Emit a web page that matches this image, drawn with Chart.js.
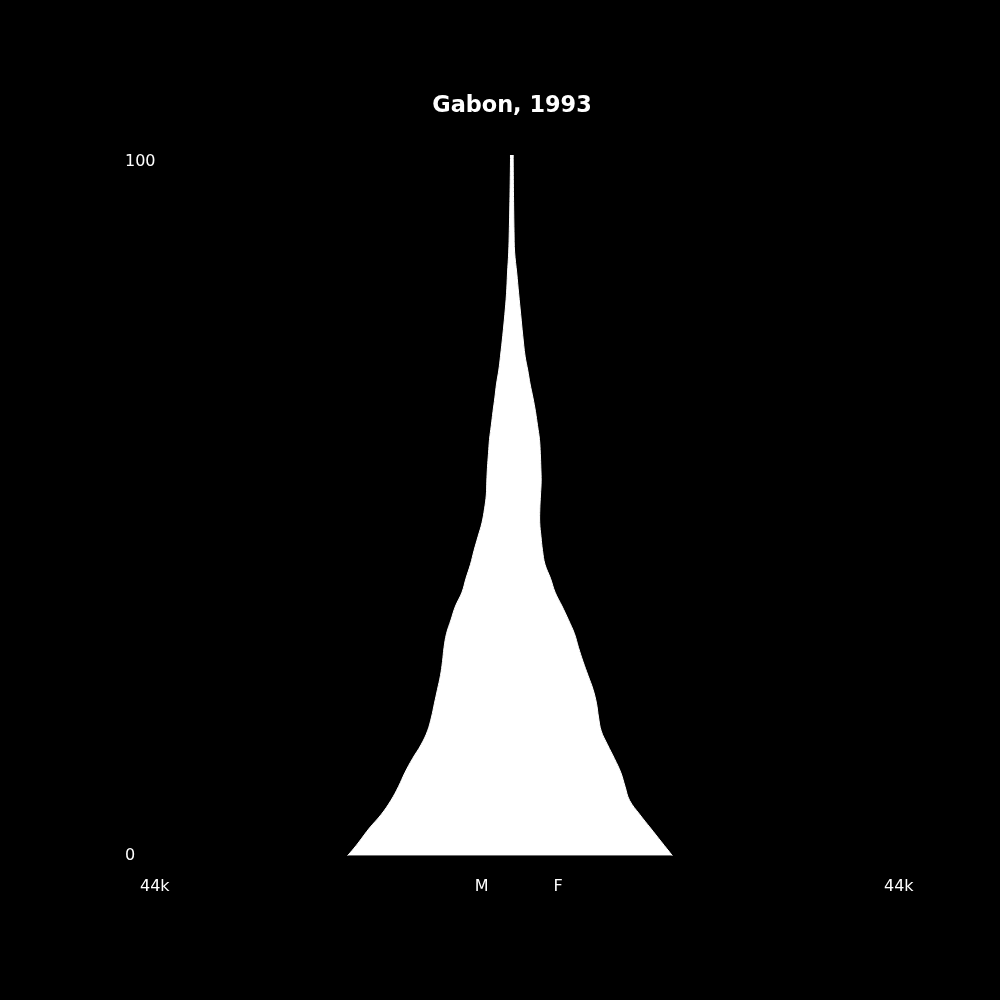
<!DOCTYPE html>
<html>
<head>
<meta charset="utf-8">
<title>Gabon, 1993</title>
<script src="https://cdn.jsdelivr.net/npm/chart.js@4.4.0/dist/chart.umd.min.js"></script>
<style>
  html, body { margin: 0; padding: 0; background: #000; }
  #pyramid { display: block; }
</style>
</head>
<body>
<canvas id="pyramid" width="1000" height="1000"></canvas>
<script>
// Population by age, thousands
const ages = [0, 1, 2, 4, 6, 8, 10, 12, 14, 16, 18, 20, 22, 24, 26, 28, 30, 32, 34, 36,
  38, 40, 42, 44, 46, 48, 50, 52, 54, 56, 58, 60, 62, 64, 66, 68, 70, 72, 75, 78,
  81, 84, 87, 90, 95, 100, 101];
const male = [19.46, 18.75, 18.10, 16.86, 15.44, 14.31, 13.42, 12.66, 11.77, 10.76,
  9.99, 9.52, 9.17, 8.81, 8.46, 8.22, 8.04, 7.75, 7.22, 6.68,
  5.91, 5.44, 4.91, 4.49, 4.02, 3.55, 3.25, 3.04, 2.98, 2.90,
  2.78, 2.66, 2.45, 2.25, 2.03, 1.83, 1.56, 1.36, 1.09, 0.85,
  0.65, 0.53, 0.39, 0.32, 0.24, 0.18, 0.18];
const female = [18.98, 18.33, 17.68, 16.38, 15.08, 13.90, 13.37, 12.87, 12.12, 11.30,
  10.55, 10.23, 9.99, 9.58, 8.99, 8.40, 7.87, 7.39, 6.68, 5.91,
  5.09, 4.55, 3.90, 3.61, 3.43, 3.28, 3.29, 3.37, 3.45, 3.41,
  3.35, 3.25, 3.02, 2.78, 2.48, 2.14, 1.86, 1.55, 1.27, 1.03,
  0.79, 0.56, 0.31, 0.24, 0.18, 0.14, 0.14];

// Axis labels
const xTickValues = [-44, -4.4, 4.9, 44];
const xTickLabels = ['44k', 'M', 'F', '44k'];
const yTickValues = [0, 100];

const FONT = "'DejaVu Sans', sans-serif";

const ctx = document.getElementById('pyramid').getContext('2d');

new Chart(ctx, {
  type: 'line',
  data: {
    datasets: [
      {
        label: 'M',
        data: ages.map((a, i) => ({ x: -male[i], y: a })),
        borderColor: '#fff',
        borderWidth: 1,
        pointRadius: 0,
        tension: 0.4,
        fill: false
      },
      {
        label: 'F',
        data: ages.map((a, i) => ({ x: female[i], y: a })),
        borderColor: '#fff',
        borderWidth: 1,
        backgroundColor: '#fff',
        pointRadius: 0,
        tension: 0.4,
        fill: '-1'
      }
    ]
  },
  options: {
    indexAxis: 'y',
    responsive: false,
    animation: false,
    layout: { padding: { left: 140, right: 116, top: 0, bottom: 83 } },
    plugins: {
      legend: { display: false },
      tooltip: { enabled: false },
      title: {
        display: true,
        text: 'Gabon, 1993',
        color: '#fff',
        font: { family: FONT, size: 22.4, weight: 'bold', lineHeight: 1.2 },
        padding: { top: 92.5, bottom: 35.6 }
      }
    },
    scales: {
      x: {
        type: 'linear',
        min: -44,
        max: 44,
        grid: { display: false, drawTicks: false },
        border: { display: false },
        afterBuildTicks: (scale) => { scale.ticks = xTickValues.map(v => ({ value: v })); },
        ticks: {
          autoSkip: false,
          maxRotation: 0,
          align: 'start',
          padding: 21,
          color: '#fff',
          font: { family: FONT, size: 16 },
          callback: (value, index) => xTickLabels[index]
        }
      },
      y: {
        type: 'linear',
        min: 0,
        max: 101,
        grid: { display: false, drawTicks: false },
        border: { display: false },
        afterBuildTicks: (scale) => { scale.ticks = yTickValues.map(v => ({ value: v })); },
        afterFit: (scale) => { scale.width = 0; },
        ticks: {
          mirror: true,
          crossAlign: 'near',
          padding: -15,
          color: '#fff',
          font: { family: FONT, size: 16 },
          callback: (value) => String(value)
        }
      }
    }
  }
});
</script>
</body>
</html>
